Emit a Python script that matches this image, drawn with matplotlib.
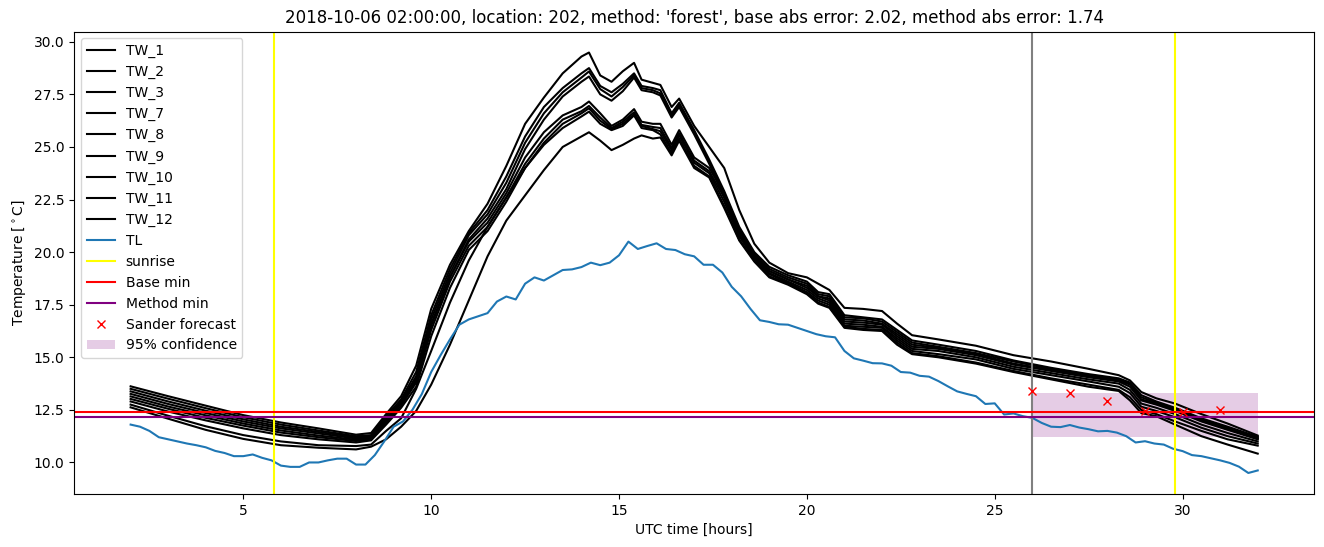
import matplotlib
matplotlib.use('Agg')
import matplotlib.pyplot as plt
import numpy as np

# Water temperature loggers, shared time grid (UTC hours)
tw_hours = [2, 3, 4, 5, 6, 7, 8, 8.4, 8.8, 9.2, 9.6, 10, 10.5, 11, 11.5, 12, 12.5, 13, 13.5, 14,
            14.2, 14.5, 14.8, 15.1, 15.4, 15.6, 15.9, 16.1, 16.4, 16.6, 17, 17.4, 17.8, 18.2, 18.6,
            19, 19.5, 20, 20.3, 20.6, 21, 21.5, 22, 22.4, 22.8, 23.5, 24.5, 25.5, 26.5, 27.5,
            28.3, 28.6, 28.9, 29.3, 29.8, 30.5, 31.2, 32]

tw_1 = [13.62, 13.15, 12.70, 12.25, 11.90, 11.62, 11.32,
        11.40, 12.30, 13.15, 14.60, 17.30,
        19.40, 21.00, 22.30, 24.10, 26.10, 27.35, 28.50, 29.30,
        29.49, 28.40, 28.10, 28.60, 29.00, 28.20, 28.05, 27.95, 26.90, 27.30,
        26.00, 25.00, 24.00, 22.00, 20.40, 19.50, 19.00, 18.80, 18.50, 18.20,
        17.35, 17.30, 17.20, 16.60, 16.05, 15.85, 15.55, 15.10, 14.80, 14.45,
        14.15, 13.90, 13.35, 13.05, 12.80, 12.30, 11.85, 11.28]
tw_2 = [13.50, 13.03, 12.58, 12.15, 11.80, 11.52, 11.25,
        11.30, 12.20, 13.00, 14.30, 17.00,
        19.20, 20.90, 22.00, 23.60, 25.50, 26.90, 27.80, 28.50,
        28.75, 27.90, 27.60, 28.00, 28.50, 27.90, 27.80, 27.70, 26.60, 27.10,
        25.80, 24.40, 22.90, 21.20, 20.00, 19.30, 18.90, 18.60, 18.10, 18.00,
        17.00, 16.90, 16.80, 16.30, 15.80, 15.60, 15.30, 14.85, 14.50, 14.20,
        14.00, 13.80, 13.20, 12.90, 12.60, 12.10, 11.70, 11.22]
tw_3 = [13.38, 12.90, 12.46, 12.05, 11.70, 11.45, 11.20,
        11.25, 12.10, 12.90, 14.10, 16.80,
        19.00, 20.80, 21.80, 23.30, 25.20, 26.60, 27.60, 28.30,
        28.59, 27.75, 27.40, 27.85, 28.40, 27.80, 27.70, 27.55, 26.50, 27.00,
        25.70, 24.30, 22.80, 21.10, 19.90, 19.20, 18.80, 18.50, 18.00, 17.90,
        16.90, 16.85, 16.70, 16.20, 15.70, 15.50, 15.20, 14.80, 14.45, 14.15,
        13.95, 13.75, 13.10, 12.85, 12.55, 12.05, 11.65, 11.18]
tw_7 = [13.26, 12.78, 12.35, 11.95, 11.62, 11.38, 11.14,
        11.20, 12.00, 12.80, 13.90, 16.50,
        18.80, 20.60, 21.60, 23.00, 24.90, 26.30, 27.40, 28.10,
        28.35, 27.50, 27.20, 27.65, 28.30, 27.70, 27.60, 27.45, 26.40, 26.90,
        25.60, 24.20, 22.60, 21.00, 19.80, 19.10, 18.70, 18.40, 17.90, 17.80,
        16.80, 16.75, 16.60, 16.10, 15.60, 15.45, 15.15, 14.70, 14.40, 14.10,
        13.90, 13.70, 13.00, 12.80, 12.50, 12.00, 11.60, 11.12]
tw_8 = [13.14, 12.66, 12.24, 11.85, 11.52, 11.28, 11.08,
        11.15, 12.00, 12.85, 14.00, 16.60,
        18.80, 20.50, 21.40, 22.80, 24.50, 25.70, 26.50, 26.90,
        27.16, 26.60, 26.00, 26.30, 26.80, 26.20, 26.10, 26.10, 25.10, 25.80,
        24.50, 24.00, 22.80, 21.00, 19.90, 19.10, 18.70, 18.30, 17.90, 17.70,
        16.70, 16.65, 16.55, 16.00, 15.50, 15.40, 15.10, 14.65, 14.35, 14.05,
        13.85, 13.60, 12.95, 12.75, 12.45, 11.95, 11.55, 11.10]
tw_9 = [13.02, 12.55, 12.12, 11.75, 11.42, 11.20, 11.02,
        11.10, 11.90, 12.70, 13.80, 16.30,
        18.60, 20.30, 21.20, 22.60, 24.20, 25.40, 26.30, 26.70,
        26.95, 26.40, 25.90, 26.20, 26.65, 26.05, 25.95, 25.90, 24.95, 25.65,
        24.35, 23.85, 22.60, 20.85, 19.80, 19.00, 18.60, 18.20, 17.80, 17.60,
        16.60, 16.55, 16.45, 15.90, 15.40, 15.30, 15.00, 14.55, 14.25, 13.95,
        13.75, 13.45, 12.80, 12.60, 12.30, 11.80, 11.40, 11.00]
tw_10 = [12.90, 12.42, 12.00, 11.62, 11.30, 11.10, 10.95,
         11.05, 11.80, 12.60, 13.60, 16.00,
         18.30, 20.10, 21.00, 22.40, 24.00, 25.20, 26.10, 26.60,
         26.84, 26.25, 25.85, 26.10, 26.55, 26.00, 25.85, 25.75, 24.85, 25.55,
         24.25, 23.75, 22.40, 20.75, 19.70, 18.95, 18.55, 18.10, 17.70, 17.50,
         16.50, 16.45, 16.40, 15.80, 15.30, 15.15, 14.90, 14.45, 14.15, 13.85,
         13.60, 13.30, 12.65, 12.45, 12.15, 11.65, 11.25, 10.90]
tw_11 = [12.75, 12.22, 11.72, 11.30, 11.00, 10.82, 10.78,
         10.85, 11.50, 12.10, 13.50, 15.30,
         17.60, 19.60, 21.20, 22.60, 24.00, 25.10, 25.90, 26.45,
         26.68, 26.10, 25.80, 26.00, 26.50, 25.90, 25.80, 25.60, 24.70, 25.40,
         24.10, 23.60, 22.20, 20.60, 19.60, 18.85, 18.50, 18.05, 17.60, 17.40,
         16.45, 16.35, 16.30, 15.70, 15.20, 15.05, 14.75, 14.35, 14.00, 13.70,
         13.45, 13.10, 12.50, 12.30, 11.95, 11.50, 11.10, 10.80]
tw_12 = [12.62, 12.08, 11.55, 11.12, 10.82, 10.70, 10.62,
         10.75, 11.10, 11.70, 12.45, 13.70,
         15.60, 17.70, 19.80, 21.50, 22.70, 23.90, 25.00, 25.50,
         25.70, 25.30, 24.85, 25.10, 25.40, 25.55, 25.40, 25.45, 24.60, 25.30,
         24.00, 23.55, 22.10, 20.55, 19.55, 18.80, 18.45, 18.00, 17.55, 17.35,
         16.40, 16.30, 16.25, 15.60, 15.15, 15.00, 14.70, 14.30, 13.95, 13.60,
         13.40, 12.95, 12.35, 12.20, 11.80, 11.25, 10.85, 10.42]

tw_names = ['TW_1', 'TW_2', 'TW_3', 'TW_7', 'TW_8', 'TW_9', 'TW_10', 'TW_11', 'TW_12']
tw_series = [tw_1, tw_2, tw_3, tw_7, tw_8, tw_9, tw_10, tw_11, tw_12]

# Air temperature, every 15 minutes
tl_hours = np.linspace(2, 32, 121)
tl = [11.80, 11.70, 11.50, 11.20, 11.10, 11.00, 10.90, 10.82, 10.72, 10.55,
      10.45, 10.30, 10.30, 10.38, 10.22, 10.10, 9.85, 9.79, 9.79, 10.00,
      10.00, 10.10, 10.18, 10.18, 9.90, 9.90, 10.35, 11.00, 11.70, 11.95,
      12.50, 13.25, 14.30, 15.10, 15.85, 16.55, 16.80, 16.95, 17.10, 17.65,
      17.89, 17.75, 18.50, 18.80, 18.65, 18.90, 19.15, 19.18, 19.29, 19.50,
      19.38, 19.50, 19.85, 20.50, 20.15, 20.29, 20.42, 20.15, 20.10, 19.90,
      19.80, 19.40, 19.40, 19.03, 18.35, 17.90, 17.30, 16.76, 16.68, 16.57,
      16.55, 16.40, 16.25, 16.10, 16.00, 15.95, 15.30, 14.95, 14.84, 14.72,
      14.71, 14.60, 14.30, 14.27, 14.12, 14.08, 13.87, 13.62, 13.38, 13.26,
      13.15, 12.78, 12.81, 12.28, 12.33, 12.20, 12.12, 11.88, 11.70, 11.68,
      11.78, 11.66, 11.58, 11.48, 11.50, 11.42, 11.25, 10.95, 11.01, 10.90,
      10.85, 10.65, 10.54, 10.35, 10.30, 10.20, 10.10, 9.98, 9.80, 9.50,
      9.62]

sunrise = [5.82, 29.81]
forecast_start = 26
base_min = 12.39
method_min = 12.16

forecast_hours = [26, 27, 28, 29, 30, 31]
forecast_temp = [13.38, 13.32, 12.94, 12.43, 12.38, 12.48]
conf_hours = [26, 32]
conf_low = 11.2
conf_high = 13.3

fig, ax = plt.subplots(figsize=(13.24, 5.47), dpi=100)
fig.subplots_adjust(left=0.0561, right=0.9925, bottom=0.0969, top=0.9424)

for name, series in zip(tw_names, tw_series):
    ax.plot(tw_hours, series, color='black', label=name)
ax.plot(tl_hours, tl, color='tab:blue', label='TL')

ax.axvline(sunrise[0], color='yellow', label='sunrise')
ax.axvline(sunrise[1], color='yellow')
ax.axvline(forecast_start, color='gray')
ax.axhline(base_min, color='red', label='Base min')
ax.axhline(method_min, color='purple', label='Method min')
ax.plot(forecast_hours, forecast_temp, 'rx', label='Sander forecast')
ax.fill_between(conf_hours, conf_low, conf_high, color='purple', alpha=0.2,
                linewidth=0, label='95% confidence')

ax.set_xlabel('UTC time [hours]')
ax.set_ylabel('Temperature [$^\\circ$C]')
ax.set_title("2018-10-06 02:00:00, location: 202, method: 'forest', "
             "base abs error: 2.02, method abs error: 1.74")
ax.legend(loc='upper left')

fig.savefig('out.png', dpi=100)
